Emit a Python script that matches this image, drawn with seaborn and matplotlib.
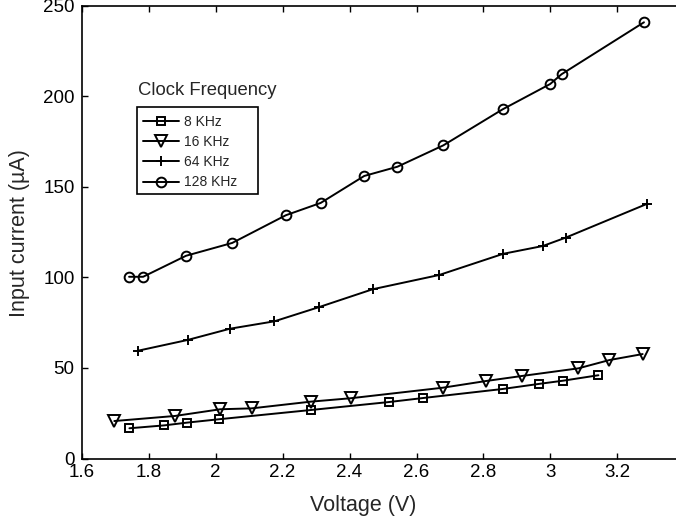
import numpy as np
import pandas as pd
import seaborn as sns
import matplotlib.pyplot as plt
from matplotlib.patches import Rectangle
from matplotlib.ticker import FormatStrFormatter

# Values
v_8k = [1.743, 1.847, 1.914, 2.011, 2.285, 2.518, 2.619, 2.857, 2.965, 3.038, 3.143]
i_8k = [16.7, 18.3, 19.8, 21.7, 26.8, 31.2, 33.4, 38.4, 41.2, 43.0, 46.0]

v_16k = [1.698, 1.879, 2.014, 2.108, 2.284, 2.404, 2.678, 2.807, 2.915, 3.083, 3.176, 3.275]
i_16k = [20.7, 23.5, 27.2, 27.7, 31.4, 33.3, 39.1, 42.8, 45.6, 49.8, 54.4, 57.7]

v_64k = [1.770, 1.917, 2.043, 2.176, 2.310, 2.469, 2.668, 2.859, 2.977, 3.045, 3.287]
i_64k = [59.6, 65.5, 71.7, 75.8, 83.7, 93.5, 101.4, 113.1, 117.4, 122.0, 140.6]

v_128k = [1.742, 1.784, 1.912, 2.050, 2.210, 2.314, 2.444, 2.543, 2.680, 2.857, 2.999, 3.033, 3.279]
i_128k = [100.4, 100.4, 112.0, 119.1, 134.4, 141.2, 156.1, 161.2, 173.0, 192.9, 206.9, 212.3, 241.0]

labels = ["8 KHz", "16 KHz", "64 KHz", "128 KHz"]
markers = ["s", "v", "+", "o"]
x_ticks = [1.6, 1.8, 2.0, 2.2, 2.4, 2.6, 2.8, 3.0, 3.2]
y_ticks = [0, 50, 100, 150, 200, 250]

sns.set_style("ticks")
plt.rcParams["font.family"] = ["Liberation Sans", "DejaVu Sans"]

W, H = 676, 519
fig = plt.figure(figsize=(W / 100, H / 100), dpi=100)
# right spine falls just outside the picture, like the cropped original
ax = fig.add_axes([81.5 / W, (H - 458.5) / H, 603 / W, 452.5 / H])

series = [(v_8k, i_8k), (v_16k, i_16k), (v_64k, i_64k), (v_128k, i_128k)]
sizes = {"s": 6, "v": 8, "+": 7, "o": 7}
for (v, i), lab, m in zip(series, labels, markers):
    df = pd.DataFrame({"Voltage": v, "Current": i})
    sns.lineplot(data=df, x="Voltage", y="Current", ax=ax, color="black",
                 linewidth=1.4, marker=m, markersize=sizes[m],
                 markerfacecolor="none", markeredgecolor="black",
                 markeredgewidth=1.4, label=lab, estimator=None, sort=False)

ax.set_xlim(1.6, 3.4)
ax.set_ylim(0, 250)
ax.set_xticks(x_ticks)
ax.set_yticks(y_ticks)
ax.xaxis.set_major_formatter(FormatStrFormatter("%g"))
ax.tick_params(direction="in", length=4, width=1, top=True, right=True,
               labelsize=13.5, colors="black")
ax.tick_params(axis="x", pad=4)
ax.tick_params(axis="y", pad=5)
for s in ax.spines.values():
    s.set_linewidth(1.2)
    s.set_color("black")

ax.set_xlabel("Voltage (V)", fontsize=15.5)
ax.set_ylabel("Input current (\u00b5A)", fontsize=15.5)
ax.xaxis.set_label_coords((363 - 81.5) / 603, -(505 - 458.5) / 452.5)
ax.yaxis.set_label_coords(-(81.5 - 19) / 603, (458.5 - 233) / 452.5)
ax.xaxis.label.set_va("center")
ax.yaxis.label.set_va("center")

leg = ax.legend(loc="upper left", bbox_to_anchor=(136.7 / W, 1 - 108.5 / H),
                bbox_transform=fig.transFigure, borderaxespad=0, fontsize=10,
                frameon=False, handlelength=2.6, handletextpad=0.35,
                borderpad=0.45, labelspacing=0.45, numpoints=1)

# MATLAB-style legend box with extra room on the right
fig.add_artist(Rectangle((136.7 / W, 1 - 194 / H), (258.3 - 136.7) / W,
                         (194 - 106.7) / H, transform=fig.transFigure,
                         fill=False, edgecolor="black", linewidth=1.2))

fig.text(207.3 / W, 1 - 90.7 / H, "Clock Frequency", fontsize=13.3,
         ha="center", va="center")

fig.savefig("out.png", dpi=100)
